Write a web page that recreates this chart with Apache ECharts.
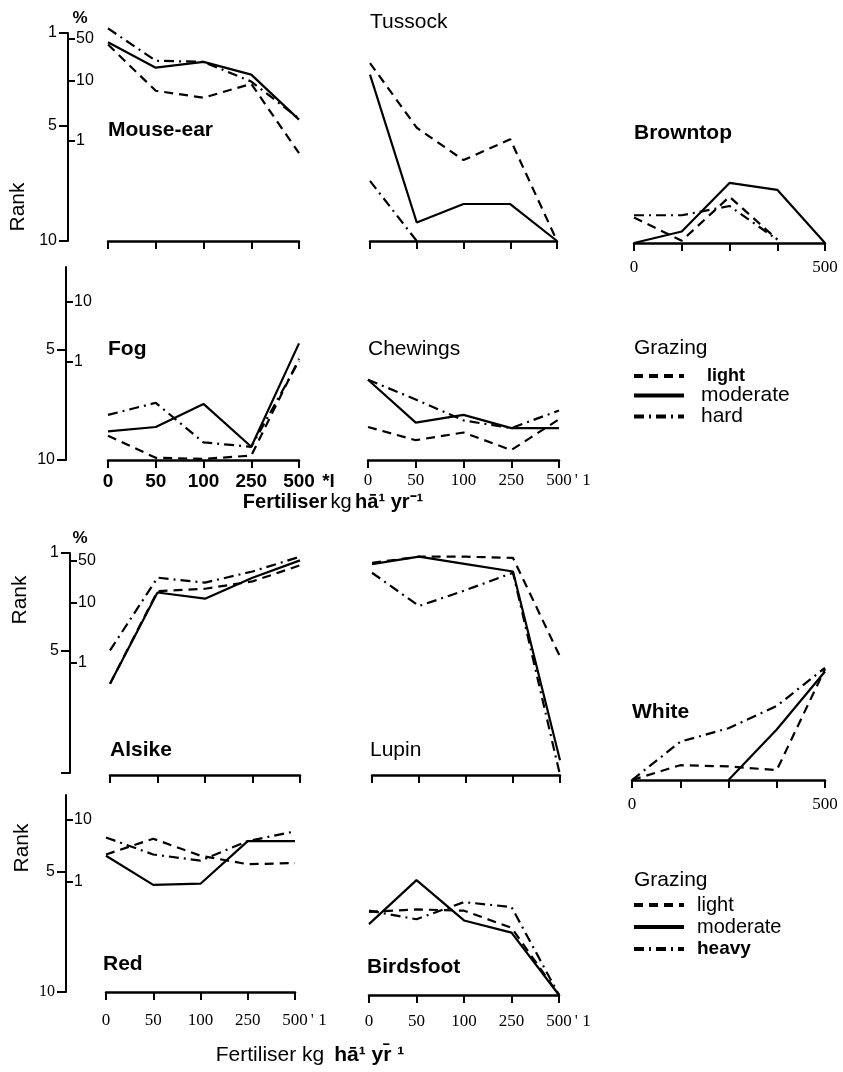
<!DOCTYPE html>
<html>
<head>
<meta charset="utf-8">
<script src="https://cdn.jsdelivr.net/npm/echarts@6/dist/echarts.min.js"></script>
<style>
  html, body { margin: 0; background: #fff; }
  #main { width: 843px; height: 1072px; }
</style>
</head>
<body>
<div id="main"></div>
<script>
// fertiliser levels (kg ha-1 yr-1), category axis of every panel
const fertiliser = ['0', '50', '100', '250', '500'];

// rank of each species under light / moderate / hard (heavy) grazing
const mouseEar = { light: [1.5, 3.5, 3.8, 3.2, 6.2], moderate: [1.4, 2.5, 2.25, 2.8, 4.75], hard: [0.8, 2.2, 2.25, 3.1, 4.7] };
const tussock = { light: [2.3, 5.1, 6.5, 5.6, 10], moderate: [2.8, 9.2, 8.4, 8.4, 10], hard: [7.4, 10, null, null, null] };
const browntop = { light: [8.9, 9.9, 8.0, 9.85, null], moderate: [10, 9.5, 7.4, 7.7, 10], hard: [8.8, 8.8, 8.4, 9.85, null] };
const fog = { light: [8.9, 9.9, 9.95, 9.8, 5.4], moderate: [8.7, 8.5, 7.45, 9.4, 4.7], hard: [7.95, 7.4, 9.2, 9.4, 5.5] };
const chewings = { light: [8.5, 9.1, 8.75, 9.55, 8.15], moderate: [6.35, 8.3, 7.95, 8.55, 8.55], hard: [6.35, 7.25, 8.2, 8.55, 7.75] };
const alsike = { light: [6.3, 2.55, 2.45, 2.15, 1.5], moderate: [6.3, 2.6, 2.85, 2.0, 1.3], heavy: [4.95, 2.0, 2.2, 1.75, 1.15] };
const lupin = { light: [1.4, 1.15, 1.15, 1.2, 5.2], moderate: [1.45, 1.15, 1.45, 1.75, 9.4], heavy: [1.8, 3.15, 2.5, 1.8, 10] };
const white = { light: [10, 9.4, 9.45, 9.6, 5.5], moderate: [null, null, 10, 7.95, 5.6], heavy: [10, 8.45, 7.9, 7.0, 5.45] };
const red = { light: [4.35, 3.7, 4.4, 4.75, 4.7], moderate: [4.4, 5.6, 5.55, 3.8, 3.8], heavy: [3.65, 4.35, 4.6, 3.8, 3.4] };
const birdsfoot = { light: [6.6, 6.5, 6.55, 7.25, 10], moderate: [7.1, 5.3, 6.95, 7.45, 10], heavy: [6.55, 6.9, 6.2, 6.4, 10] };

// tick labels of the rank and % axes, one list per row of panels
const rankTicks = [[1, 5, 10], [5, 10], [1, 5, 10], [5, 10]];
const rankLabels = [[1, 5, 10], [5, 10], [1, 5], [5, 10]];
const pctLabels = [[1, 10, 50], [1, 10], [1, 10, 50], [1, 10]];

const BLACK = '#000';
const SANS = 'Liberation Sans';
const SERIF = 'Liberation Serif';

// layout of the panels
const panels = [
  { title: 'Mouse-ear', bold: true, data: mouseEar, third: 'hard', box: [108, 33, 191, 208], t: [108, 130] },
  { title: 'Tussock', bold: false, data: tussock, third: 'hard', box: [370, 33, 187, 208], t: [370, 22] },
  { title: 'Browntop', bold: true, data: browntop, third: 'hard', box: [634, 35, 191, 208], t: [634, 133], ends: true },
  { title: 'Fog', bold: true, data: fog, third: 'hard', box: [108, 262, 191, 198], t: [108, 349], labels: 'sans', suffix: ' *l' },
  { title: 'Chewings', bold: false, data: chewings, third: 'hard', box: [368, 262, 191, 198], t: [368, 349], labels: 'serif', suffix: "' 1" },
  { title: 'Alsike', bold: true, data: alsike, third: 'heavy', box: [110, 553, 190, 222], t: [110, 750] },
  { title: 'Lupin', bold: false, data: lupin, third: 'heavy', box: [372, 553, 188, 222], t: [370, 750] },
  { title: 'White', bold: true, data: white, third: 'heavy', box: [632, 558, 193, 222], t: [632, 712], ends: true },
  { title: 'Red', bold: true, data: red, third: 'heavy', box: [106, 773, 189, 219], t: [103, 964], labels: 'serif', suffix: "' 1", margin: 20 },
  { title: 'Birdsfoot', bold: true, data: birdsfoot, third: 'heavy', box: [369, 775, 190, 220], t: [367, 967], labels: 'serif', suffix: "' 1", margin: 18 },
];

const rankAxes = [
  { left: 68, top: 33, height: 208, min: 1, pmin: 0.0215, pmax: 63.1 },
  { left: 66, top: 267, height: 193, min: 1.23, pmin: 0.0233, pmax: 38.3 },
  { left: 70, top: 553, height: 220, min: 1, pmin: 0.0147, pmax: 68 },
  { left: 66, top: 795, height: 197, min: 1.83, pmin: 0.0168, pmax: 25.3 },
];

const DASH = { light: [9, 6], moderate: 'solid', hard: [10, 5, 2, 5], heavy: [10, 5, 2, 5] };

const grid = [];
const xAxis = [];
const yAxis = [];
const series = [];
const graphic = [];

panels.forEach((p, i) => {
  const [left, top, width, height] = p.box;
  grid.push({ left, top, width, height });

  let font = { fontFamily: SERIF, fontSize: 17 };
  if (p.labels === 'sans') font = { fontFamily: SANS, fontWeight: 'bold', fontSize: 19 };
  const rich = {
    p: { width: 22 },
    s: Object.assign({ width: 22, align: 'left' }, font),
  };
  xAxis.push({
    gridIndex: i,
    type: 'category',
    data: fertiliser,
    boundaryGap: false,
    axisLine: { lineStyle: { color: BLACK, width: 2.5 } },
    axisTick: { show: true, interval: 0, length: 8, lineStyle: { color: BLACK, width: 2 } },
    axisLabel: Object.assign({
      show: !!p.labels || !!p.ends,
      interval: p.ends ? (idx) => idx === 0 || idx === 4 : 0,
      color: BLACK,
      margin: p.margin || (p.ends ? 16 : 12),
      rich,
      formatter: (v, idx) => (p.suffix && idx === 4 ? '{p|}' + v + '{s|' + p.suffix + '}' : v),
    }, font),
    splitLine: { show: false },
  });
  yAxis.push({ gridIndex: i, type: 'value', min: 1, max: 10, inverse: true, show: false });

  ['light', 'moderate', p.third].forEach((g) => {
    series.push({
      name: g,
      type: 'line',
      xAxisIndex: i,
      yAxisIndex: i,
      data: p.data[g],
      symbol: 'none',
      clip: false,
      silent: true,
      itemStyle: { color: BLACK },
      lineStyle: { color: BLACK, width: 2.2, type: DASH[g] },
    });
  });

  graphic.push({
    type: 'text',
    x: p.t[0],
    y: p.t[1],
    style: {
      text: p.title,
      fill: BLACK,
      fontFamily: SANS,
      fontWeight: p.bold ? 'bold' : 'normal',
      fontSize: 21,
      verticalAlign: 'middle',
    },
  });
});

// separate rank / % axes at the left of each row
rankAxes.forEach((r, k) => {
  const gi = grid.length;
  grid.push({ left: r.left, top: r.top, width: 1, height: r.height });
  xAxis.push({ gridIndex: gi, type: 'value', show: false });
  yAxis.push({
    gridIndex: gi,
    type: 'value',
    min: r.min,
    max: 10,
    inverse: true,
    position: 'left',
    axisLine: { show: true, lineStyle: { color: BLACK, width: 2 } },
    axisTick: { show: true, length: 9, customValues: rankTicks[k], lineStyle: { color: BLACK, width: 2 } },
    axisLabel: {
      customValues: rankLabels[k],
      color: BLACK,
      fontFamily: SANS,
      fontSize: 16,
      margin: 11,
      formatter: (v) => (k === 3 && v === 10 ? '{s|10}' : String(v)),
      rich: { s: { fontFamily: SERIF, fontSize: 16 } },
    },
    splitLine: { show: false },
  });
  yAxis.push({
    gridIndex: gi,
    type: 'log',
    logBase: 10,
    min: r.pmin,
    max: r.pmax,
    position: 'right',
    axisLine: { show: false },
    axisTick: { show: true, length: 6, customValues: pctLabels[k], lineStyle: { color: BLACK, width: 2 } },
    axisLabel: { customValues: pctLabels[k], color: BLACK, fontFamily: SANS, fontSize: 16, margin: 7 },
    splitLine: { show: false },
  });
});

// axis titles and other texts
const textBits = [
  { text: '%', x: 80, y: 18, weight: 'bold', size: 17 },
  { text: '%', x: 80, y: 538, weight: 'bold', size: 17 },
  { text: 'Grazing', x: 634, y: 348, size: 21 },
  { text: 'Grazing', x: 634, y: 880, size: 21 },
];
textBits.forEach((b) => {
  graphic.push({
    type: 'text', x: b.x, y: b.y,
    style: { text: b.text, fill: BLACK, fontFamily: SANS, fontWeight: b.weight || 'normal', fontSize: b.size, verticalAlign: 'middle', align: b.x === 80 ? 'center' : 'left' },
  });
});
[[18, 207], [20, 600], [22, 848]].forEach(([x, y]) => {
  graphic.push({
    type: 'text', x, y, rotation: Math.PI / 2,
    style: { text: 'Rank', fill: BLACK, fontFamily: SANS, fontSize: 21, align: 'center', verticalAlign: 'middle' },
  });
});
graphic.push({
  type: 'text', x: 333, y: 502,
  style: {
    text: '{b|Fertiliser} {r|kg} {b|hā¹ yr⁻¹}',
    align: 'center', verticalAlign: 'middle',
    rich: {
      b: { fontFamily: SANS, fontWeight: 'bold', fontSize: 20, fill: BLACK },
      r: { fontFamily: SANS, fontSize: 20, fill: BLACK },
    },
  },
});
graphic.push({
  type: 'text', x: 310, y: 1055,
  style: {
    text: '{r|Fertiliser kg}   {b|hā¹ yr̄ ¹}',
    align: 'center', verticalAlign: 'middle',
    rich: {
      b: { fontFamily: SANS, fontWeight: 'bold', fontSize: 21, fill: BLACK },
      r: { fontFamily: SANS, fontSize: 21, fill: BLACK },
    },
  },
});

const legendBase = {
  orient: 'vertical',
  left: 632,
  padding: 0,
  itemWidth: 50,
  itemHeight: 12,
  itemGap: 0,
  selectedMode: false,
  lineStyle: { width: 4 },
  itemStyle: { opacity: 0 },
};

const option = {
  backgroundColor: '#fff',
  animation: false,
  grid,
  xAxis,
  yAxis,
  series,
  graphic,
  legend: [
    Object.assign({}, legendBase, {
      top: 367,
      data: ['light', 'moderate', 'hard'],
      formatter: (n) => (n === 'light' ? '{b|' + n + '}' : '{r|' + n + '}'),
      textStyle: {
        lineHeight: 17,
        padding: [0, 0, 0, 12],
        rich: {
          b: { fontFamily: SANS, fontWeight: 'bold', fontSize: 18, lineHeight: 17, color: BLACK, padding: [0, 0, 0, 6] },
          r: { fontFamily: SANS, fontSize: 21, lineHeight: 17, color: BLACK },
        },
      },
    }),
    Object.assign({}, legendBase, {
      top: 894,
      data: ['light', 'moderate', 'heavy'],
      formatter: (n) => (n === 'heavy' ? '{b|' + n + '}' : '{r|' + n + '}'),
      textStyle: {
        lineHeight: 22,
        padding: [0, 0, 0, 8],
        rich: {
          b: { fontFamily: SANS, fontWeight: 'bold', fontSize: 19, lineHeight: 22, color: BLACK },
          r: { fontFamily: SANS, fontSize: 20, lineHeight: 22, color: BLACK },
        },
      },
    }),
  ],
};

const chart = echarts.init(document.getElementById('main'));
chart.setOption(option);
</script>
</body>
</html>
